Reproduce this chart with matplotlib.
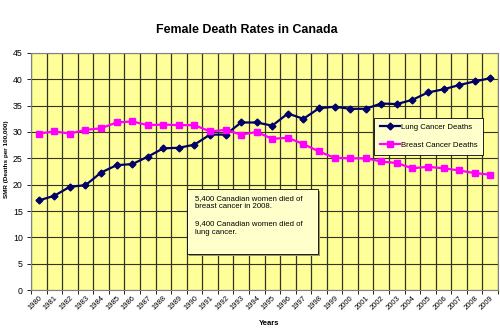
import matplotlib
matplotlib.use("Agg")
import matplotlib.pyplot as plt
from matplotlib.patches import Rectangle

plt.rcParams['font.family'] = ['Liberation Sans', 'DejaVu Sans']

years = [str(y) for y in range(1980, 2010)]
lung = [17.0, 17.9, 19.6, 19.9, 22.3, 23.7, 23.9, 25.3, 26.9, 27.0,
        27.6, 29.5, 29.5, 31.8, 31.8, 31.2, 33.5, 32.5, 34.5, 34.8,
        34.4, 34.4, 35.4, 35.3, 36.1, 37.5, 38.1, 38.9, 39.6, 40.2]
breast = [29.7, 30.1, 29.7, 30.4, 30.7, 31.8, 32.0, 31.3, 31.4, 31.3,
          31.3, 30.1, 30.4, 29.5, 30.0, 28.7, 28.9, 27.7, 26.3, 25.1,
          25.0, 25.0, 24.4, 24.1, 23.1, 23.4, 23.1, 22.7, 22.2, 21.9]

fig = plt.figure(figsize=(5, 3.33), dpi=100)
ax = fig.add_axes([0.062, 0.129, 0.934, 0.712])
ax.set_facecolor('#FFFF99')

x = list(range(len(years)))
ax.plot(x, lung, color='#000066', marker='D', markersize=3.5, lw=1.6,
        label='Lung Cancer Deaths', zorder=3)
ax.plot(x, breast, color='#FF00FF', marker='s', markersize=4.5, lw=1.6,
        label='Breast Cancer Deaths', zorder=3)

ax.set_xlim(-0.5, len(years) - 0.5)
ax.set_ylim(0, 45)
ax.set_yticks(range(0, 46, 5))
ax.set_xticks(x)
ax.set_xticklabels(years, rotation=45, ha='right', rotation_mode='anchor', fontsize=5.5)
ax.set_xticks([i - 0.5 for i in range(len(years) + 1)], minor=True)
ax.tick_params(axis='x', which='major', length=0, pad=3)
ax.tick_params(axis='x', which='minor', length=3, width=0.6)
ax.tick_params(axis='y', labelsize=6.3, length=3, width=0.6, pad=3)
ax.grid(True, which='minor', axis='x', color='#333322', lw=0.9)
ax.grid(True, which='major', axis='y', color='#333322', lw=0.8)
ax.set_axisbelow(True)
for s in ax.spines.values():
    s.set_color('#808080')
    s.set_linewidth(0.8)

ax.set_xlabel('Years', fontsize=5.5, fontweight='bold')
ax.xaxis.set_label_coords(0.51, -0.125)
ax.set_ylabel('SMR (Deaths per 100,000)', fontsize=4.6, fontweight='bold')
ax.yaxis.set_label_coords(-0.048, 0.55)
fig.text(0.494, 0.91, 'Female Death Rates in Canada', ha='center', va='center',
         fontsize=8.9, fontweight='bold')

leg = ax.legend(loc='upper left', bbox_to_anchor=(0.735, 0.726), fontsize=5.6,
                frameon=True, fancybox=False, edgecolor='black', facecolor='#FFFFCC',
                handlelength=2.6, handletextpad=0.15, labelspacing=1.4,
                borderpad=0.7, borderaxespad=0)
leg.get_frame().set_linewidth(0.6)
leg.get_frame().set_alpha(1)

# annotation box (pixel coords converted to figure fraction)
W, H = 500, 333
bx0, by0, bx1, by1 = 187, 189, 318, 254
fig.patches.append(Rectangle((bx0 / W + 0.004, 1 - by1 / H - 0.006), (bx1 - bx0) / W, (by1 - by0) / H,
                             transform=fig.transFigure, facecolor='#999966', edgecolor='none', zorder=4))
fig.patches.append(Rectangle((bx0 / W, 1 - by1 / H), (bx1 - bx0) / W, (by1 - by0) / H,
                             transform=fig.transFigure, facecolor='#FFFFCC', edgecolor='black',
                             lw=0.6, zorder=5))
fig.text(195 / W, 1 - 195 / H,
         '5,400 Canadian women died of\nbreast cancer in 2008.\n\n9,400 Canadian women died of\nlung cancer.',
         fontsize=5.6, va='top', ha='left', linespacing=1.3, zorder=6)

fig.savefig('out.png', dpi=100)
